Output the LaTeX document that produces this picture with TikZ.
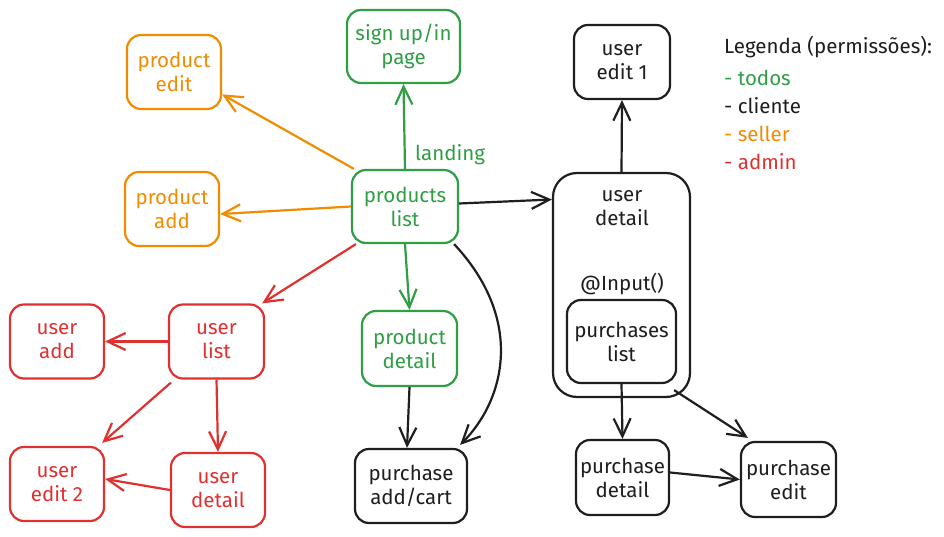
\documentclass[tikz,border=0pt]{standalone}
\usepackage{fontspec}
\setmainfont{Fira Sans}
\usetikzlibrary{arrows.meta,calc}
\definecolor{cgreen}{HTML}{2F9E44}
\definecolor{corange}{HTML}{F08C00}
\definecolor{cred}{HTML}{E03131}
\definecolor{cblack}{HTML}{1E1E1E}
\tikzset{
  box/.style={draw, line width=2.2pt, rounded corners=14pt, minimum width=94pt, minimum height=74pt,
    align=center, inner sep=0pt, font=\fontsize{20.5}{24}\selectfont},
  gbox/.style={box, draw=cgreen, text=cgreen},
  obox/.style={box, draw=corange, text=corange},
  rbox/.style={box, draw=cred, text=cred},
  kbox/.style={box, draw=cblack, text=cblack},
  conn/.style={line width=2.2pt, -{Straight Barb[length=18pt,width=17pt,line width=2.2pt]}},
  gconn/.style={conn, draw=cgreen},
  oconn/.style={conn, draw=corange},
  rconn/.style={conn, draw=cred},
  kconn/.style={conn, draw=cblack},
  lbl/.style={font=\fontsize{20.5}{24}\selectfont, inner sep=0pt}
}
\begin{document}
\begin{tikzpicture}[x=1pt,y=-1pt]
\useasboundingbox[fill=white] (0,0) rectangle (944,537);
% nodes
\node[obox] (pe) at (174,72) {product\\edit};
\node[obox] (pa) at (172,209) {product\\add};
\node[gbox, minimum width=113pt, minimum height=73pt] (su) at (403.5,46.5) {sign up/in\\page};
\node[gbox, minimum width=106pt, minimum height=73pt] (pl) at (405,206.5) {products\\list};
\node[lbl, text=cgreen, anchor=west] (land) at (415,155) {landing};
\node[kbox, minimum width=96pt] (ue1) at (622,62) {user\\edit 1};
\node[draw=cblack, line width=2.2pt, rounded corners=24pt, minimum width=137pt, minimum height=224pt, inner sep=0pt] (ud) at (621.5,285) {};
\node[lbl, text=cblack, align=center] (udt) at (622,208) {user\\detail};
\node[lbl, text=cblack] (inp) at (622,284) {@Input()};
\node[kbox, minimum width=109pt, minimum height=83pt] (purl) at (621.5,341.5) {purchases\\list};
\node[rbox] (uadd) at (57,341.5) {user\\add};
\node[rbox, minimum width=95pt] (ul) at (216.5,341.5) {user\\list};
\node[rbox] (ue2) at (57,484) {user\\edit 2};
\node[rbox] (udr) at (218,490) {user\\detail};
\node[gbox, minimum width=95pt, minimum height=75pt] (pd) at (409.5,348.5) {product\\detail};
\node[kbox, minimum width=112pt] (pac) at (411,486) {purchase\\add/cart};
\node[kbox, minimum width=93pt, minimum height=75pt] (purd) at (622.5,477.5) {purchase\\detail};
\node[kbox, minimum width=95pt, minimum height=75pt] (ped) at (788.5,479.5) {purchase\\edit};
% legend
\node[lbl, text=cblack, anchor=west] (leg) at (724,47) {Legenda (permissões):};
\node[lbl, text=cgreen, anchor=west] (l1) at (724,78) {- todos};
\node[lbl, text=cblack, anchor=west] (l2) at (724,106) {- cliente};
\node[lbl, text=corange, anchor=west] (l3) at (724,134) {- seller};
\node[lbl, text=cred, anchor=west] (l4) at (724,162) {- admin};
% connectors
\draw[gconn] (pl.north) -- (su.south);
\draw[oconn] ([xshift=3pt]pl.north west) -- (pe.-25);
\draw[oconn] (pl.west) -- (pa.-6);
\draw[rconn] ([xshift=5pt]pl.south west) -- ([xshift=-3pt]ul.north east);
\draw[gconn] (pl.south) -- (pd.north);
\draw[kconn] ([yshift=3pt]pl.east) -- ([yshift=7pt]pl.east -| ud.west);
\draw[kconn] ([xshift=-5pt]pl.south east) .. controls (525,320) and (505,400) .. ([xshift=-8pt,yshift=3pt]pac.north east);
\draw[kconn] (pd.south) -- ([xshift=-4pt]pac.north);
\draw[rconn] (ul.west) -- (uadd.east);
\draw[rconn] ([xshift=3pt,yshift=-3pt]ul.south west) -- ([xshift=-3pt,yshift=3pt]ue2.north east);
\draw[rconn] (ul.south) -- (udr.north);
\draw[rconn] (udr.west) -- ([yshift=5pt]ue2.east);
\draw[kconn] (ud.north) -- (ue1.south);
\draw[kconn] (purl.south) -- (purd.north);
\draw[kconn] ([xshift=-3pt,yshift=-6pt]purl.south east) -- ([xshift=8pt,yshift=3pt]ped.north west);
\draw[kconn] ([yshift=5pt]purd.east) -- (ped.west);
\end{tikzpicture}
\end{document}
